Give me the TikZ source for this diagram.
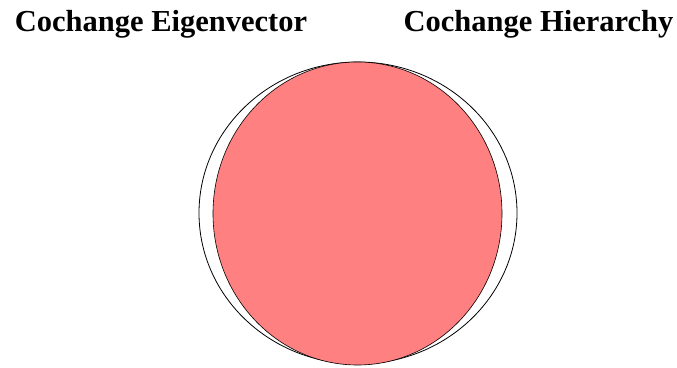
\documentclass[tikz,border=0pt]{standalone}
\usepackage{fontspec}
\setmainfont{Liberation Serif}
\definecolor{setred}{RGB}{255,128,128}
\begin{document}
\begin{tikzpicture}[x=1pt,y=1pt,
  setlabel/.style={font=\bfseries\fontsize{30.5}{34}\selectfont, inner sep=0pt, anchor=base},
  outerset/.style={draw=black, line width=0.8pt, fill=white},
  innerset/.style={draw=black, line width=0.6pt, fill=setred}]
\useasboundingbox (0,0) rectangle (677,367);
\node[setlabel] (lblA) at (161,335) {Cochange Eigenvector};
\node[setlabel] (lblB) at (538.5,335) {Cochange Hierarchy};
\draw[outerset] (358,154) ellipse [x radius=159, y radius=151];
\draw[innerset] (357.5,153.5) ellipse [x radius=144.5, y radius=151.5];
\end{tikzpicture}
\end{document}
